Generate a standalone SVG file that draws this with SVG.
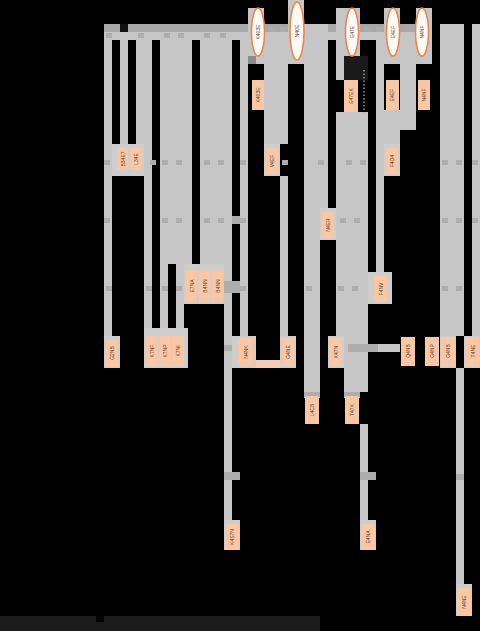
<svg xmlns="http://www.w3.org/2000/svg" width="480" height="631" viewBox="0 0 480 631">
<style>
.e{fill:#c6c6c6}
.d{fill:#a8a8a8}
.c{fill:#adadad}
.b{fill:#cecece}
.n{fill:#f9c7a3}
.el{fill:#fffaf5;stroke:#f0854a;stroke-width:1.6}
text{font-family:"Liberation Sans",Arial,sans-serif;font-size:5px;fill:#5a3a28;text-anchor:middle;dominant-baseline:central}
</style>
<rect x="0" y="0" width="480" height="631" fill="#000"/>
<g id="connectors">
<rect class="e" x="104" y="24" width="328" height="16"/>
<rect class="d" x="104" y="24" width="328" height="8"/>
<rect x="120" y="24" width="8" height="8" fill="#111"/>
<rect class="e" x="104" y="40" width="8" height="300"/>
<rect class="e" x="120" y="40" width="8" height="104"/>
<rect class="e" x="136" y="40" width="16" height="104"/>
<rect class="e" x="144" y="144" width="8" height="186"/>
<rect class="e" x="160" y="40" width="32" height="224"/>
<rect class="e" x="160" y="264" width="8" height="66"/>
<rect class="e" x="176" y="264" width="8" height="66"/>
<rect class="e" x="200" y="40" width="32" height="224"/>
<rect class="e" x="224" y="264" width="8" height="256"/>
<rect class="e" x="240" y="40" width="8" height="296"/>
<rect class="e" x="248" y="8" width="16" height="56"/>
<rect class="e" x="264" y="40" width="24" height="104"/>
<rect class="e" x="280" y="176" width="8" height="160"/>
<rect class="e" x="288" y="0" width="16" height="64"/>
<rect class="e" x="304" y="24" width="24" height="184"/>
<rect class="e" x="304" y="208" width="16" height="184"/>
<rect class="e" x="336" y="8" width="24" height="56"/>
<rect class="e" x="336" y="40" width="8" height="40"/>
<rect class="e" x="336" y="112" width="32" height="224"/>
<rect class="e" x="344" y="336" width="24" height="56"/>
<rect class="e" x="360" y="424" width="8" height="96"/>
<rect class="e" x="344" y="344" width="56" height="8"/>
<rect class="e" x="376" y="40" width="8" height="232"/>
<rect class="e" x="384" y="8" width="16" height="56"/>
<rect class="e" x="384" y="110" width="16" height="34"/>
<rect class="e" x="400" y="40" width="16" height="90"/>
<rect class="e" x="416" y="8" width="16" height="56"/>
<rect class="e" x="440" y="24" width="24" height="312"/>
<rect class="e" x="456" y="368" width="8" height="216"/>
<rect class="e" x="472" y="24" width="8" height="312"/>
<rect x="240" y="360" width="56" height="8" fill="#f3cdb4"/>
<rect x="248" y="56" width="8" height="8" fill="#8c8c8c"/>
<rect x="344" y="56" width="24" height="24" fill="#1a1a1a"/>
<line x1="364" y1="70" x2="364" y2="114" stroke="#bbb" stroke-width="1.2" stroke-dasharray="1.5 2"/>
<g class="c">
<rect x="106" y="33" width="6" height="5"/><rect x="138" y="33" width="6" height="5"/><rect x="164" y="33" width="6" height="5"/><rect x="178" y="33" width="6" height="5"/><rect x="204" y="33" width="6" height="5"/><rect x="220" y="33" width="6" height="5"/><rect x="268" y="27" width="6" height="5"/><rect x="280" y="27" width="6" height="5"/><rect x="364" y="27" width="6" height="5"/><rect x="376" y="27" width="6" height="5"/>
<rect x="104" y="160" width="6" height="5"/><rect x="150" y="160" width="6" height="5"/><rect x="162" y="160" width="6" height="5"/><rect x="176" y="160" width="6" height="5"/><rect x="204" y="160" width="6" height="5"/><rect x="218" y="160" width="6" height="5"/><rect x="240" y="160" width="6" height="5"/><rect x="282" y="160" width="6" height="5"/><rect x="318" y="160" width="6" height="5"/><rect x="346" y="160" width="6" height="5"/><rect x="360" y="160" width="6" height="5"/><rect x="442" y="160" width="6" height="5"/><rect x="456" y="160" width="6" height="5"/><rect x="472" y="160" width="6" height="5"/>
<rect x="104" y="218" width="6" height="5"/><rect x="162" y="218" width="6" height="5"/><rect x="176" y="218" width="6" height="5"/><rect x="204" y="218" width="6" height="5"/><rect x="218" y="218" width="6" height="5"/><rect x="232" y="216" width="8" height="8"/><rect x="240" y="218" width="6" height="5"/><rect x="340" y="218" width="6" height="5"/><rect x="354" y="218" width="6" height="5"/><rect x="442" y="218" width="6" height="5"/><rect x="456" y="218" width="6" height="5"/><rect x="472" y="218" width="6" height="5"/>
<rect x="106" y="286" width="6" height="5"/><rect x="146" y="286" width="6" height="5"/><rect x="162" y="286" width="6" height="5"/><rect x="176" y="286" width="6" height="5"/><rect x="224" y="281" width="16" height="12"/><rect x="240" y="286" width="6" height="5"/><rect x="306" y="286" width="6" height="5"/><rect x="338" y="286" width="6" height="5"/><rect x="352" y="286" width="6" height="5"/><rect x="442" y="286" width="6" height="5"/><rect x="456" y="286" width="6" height="5"/>
<rect x="224" y="345" width="10" height="6"/><rect x="348" y="344" width="30" height="8"/>
<rect x="224" y="472" width="16" height="8"/><rect x="360" y="472" width="16" height="8"/><rect x="456" y="474" width="8" height="6"/>
</g>
</g>
<g id="nodes">
<g id="n-ell-k403e"><ellipse class="el" cx="258" cy="32" rx="6.5" ry="24"/><text transform="translate(258 32) rotate(-90)">K403E</text></g>
<g id="n-ell-n40e"><ellipse class="el" cx="297" cy="31" rx="7" ry="29"/><text transform="translate(297 31) rotate(-90)">N40E</text></g>
<g id="n-ell-e47e"><ellipse class="el" cx="352" cy="32" rx="6.5" ry="24"/><text transform="translate(352 32) rotate(-90)">E47E</text></g>
<g id="n-ell-e4ef"><ellipse class="el" cx="393" cy="32" rx="6.5" ry="24"/><text transform="translate(393 32) rotate(-90)">E4EF</text></g>
<g id="n-ell-n4nf"><ellipse class="el" cx="422" cy="32" rx="6.5" ry="24"/><text transform="translate(422 32) rotate(-90)">N4NF</text></g>

<g id="n-k403e"><rect class="n" x="252" y="80" width="12" height="30"/><text transform="translate(258 95) rotate(-90)">K403E</text></g>
<g id="n-e47ek"><rect class="n" x="344" y="80" width="14" height="32"/><text transform="translate(351 96) rotate(-90)">E47EK</text></g>
<g id="n-e4ef"><rect class="n" x="386" y="80" width="13" height="30"/><text transform="translate(392 95) rotate(-90)">E4EF</text></g>
<g id="n-n4nf"><rect class="n" x="418" y="80" width="12" height="30"/><text transform="translate(424 95) rotate(-90)">N4NF</text></g>

<g id="n-b34e7"><rect class="b" x="112" y="144" width="32" height="32"/><rect class="n" x="117" y="148" width="11" height="22"/><text transform="translate(122.5 159) rotate(-90)">B34E7</text><rect class="n" x="130" y="148" width="11" height="22"/><text transform="translate(135.5 159) rotate(-90)">L34E</text></g>
<g id="n-v4ef"><rect class="b" x="264" y="144" width="16" height="32"/><rect class="n" x="266" y="148" width="12" height="26"/><text transform="translate(272 161) rotate(-90)">V4EF</text></g>
<g id="n-f4o4"><rect class="b" x="384" y="144" width="16" height="32"/><rect class="n" x="386" y="148" width="12" height="26"/><text transform="translate(392 161) rotate(-90)">F4O4</text></g>
<g id="n-n4er"><rect class="b" x="320" y="208" width="16" height="32"/><rect class="n" x="322" y="212" width="12" height="26"/><text transform="translate(328 225) rotate(-90)">N4ER</text></g>

<g id="n-e7na"><rect class="b" x="184" y="264" width="40" height="40"/><rect class="n" x="186" y="270" width="11" height="32"/><text transform="translate(191.5 286) rotate(-90)">E7NA</text><rect class="n" x="199" y="270" width="11" height="32"/><text transform="translate(204.5 286) rotate(-90)">B4NN</text><rect class="n" x="212" y="270" width="11" height="32"/><text transform="translate(217.5 286) rotate(-90)">B4NN</text></g>
<g id="n-f4nv"><rect class="b" x="368" y="272" width="24" height="32"/><rect class="n" x="374" y="276" width="13" height="26"/><text transform="translate(380.5 289) rotate(-90)">F4NV</text></g>

<g id="n-g2nb"><rect class="b" x="104" y="336" width="16" height="32"/><rect class="n" x="106" y="340" width="12" height="27"/><text transform="translate(112 353) rotate(-90)">G2NB</text></g>
<g id="n-k7n"><rect class="b" x="144" y="328" width="44" height="40"/><rect class="n" x="146" y="336" width="12" height="30"/><text transform="translate(152 351) rotate(-90)">K7NF</text><rect class="n" x="159" y="336" width="12" height="30"/><text transform="translate(165 351) rotate(-90)">K7NP</text><rect class="n" x="172" y="336" width="12" height="30"/><text transform="translate(178 351) rotate(-90)">K7NI</text></g>
<g id="n-n4nk"><rect class="b" x="232" y="336" width="24" height="32"/><rect class="n" x="238" y="338" width="15" height="28"/><text transform="translate(245.5 352) rotate(-90)">N4NK</text></g>
<g id="n-g4ne"><rect class="b" x="280" y="336" width="16" height="32"/><rect class="n" x="282" y="338" width="12" height="28"/><text transform="translate(288 352) rotate(-90)">G4NE</text></g>
<g id="n-k47n"><rect class="b" x="328" y="336" width="16" height="32"/><rect class="n" x="330" y="338" width="12" height="28"/><text transform="translate(336 352) rotate(-90)">K47N</text></g>
<g id="n-q4nb"><rect class="n" x="401" y="337" width="14" height="29"/><text transform="translate(408 351) rotate(-90)">Q4NB</text></g>
<g id="n-g4np"><rect class="n" x="425" y="337" width="14" height="29"/><text transform="translate(432 351) rotate(-90)">G4NP</text></g>
<g id="n-g4nb"><rect class="b" x="440" y="336" width="16" height="32"/><rect class="n" x="441" y="337" width="14" height="29"/><text transform="translate(448 351) rotate(-90)">G4NB</text></g>
<g id="n-t4ne"><rect class="b" x="464" y="336" width="16" height="32"/><rect class="n" x="466" y="337" width="13" height="29"/><text transform="translate(472.5 351) rotate(-90)">T4NE</text></g>

<g id="n-l4cb"><rect class="c" x="304" y="392" width="16" height="6"/><rect class="n" x="305" y="396" width="14" height="28"/><text transform="translate(312 410) rotate(-90)">L4CB</text></g>
<g id="n-t47k"><rect class="c" x="344" y="392" width="16" height="6"/><rect class="n" x="345" y="396" width="14" height="28"/><text transform="translate(352 410) rotate(-90)">T47K</text></g>
<g id="n-k4s7n"><rect class="b" x="224" y="520" width="16" height="30"/><rect class="n" x="225" y="524" width="14" height="26"/><text transform="translate(232 537) rotate(-90)">K4S7N</text></g>
<g id="n-e4na"><rect class="b" x="360" y="520" width="16" height="30"/><rect class="n" x="361" y="524" width="14" height="26"/><text transform="translate(368 537) rotate(-90)">E4NA</text></g>
<g id="n-n4ne"><rect class="b" x="456" y="584" width="16" height="32"/><rect class="n" x="457" y="588" width="14" height="28"/><text transform="translate(464 602) rotate(-90)">N4NE</text></g>
</g>
<rect x="0" y="616" width="320" height="15" fill="#1b1b1b"/>
<rect x="96" y="616" width="8" height="6" fill="#050505"/>
</svg>
